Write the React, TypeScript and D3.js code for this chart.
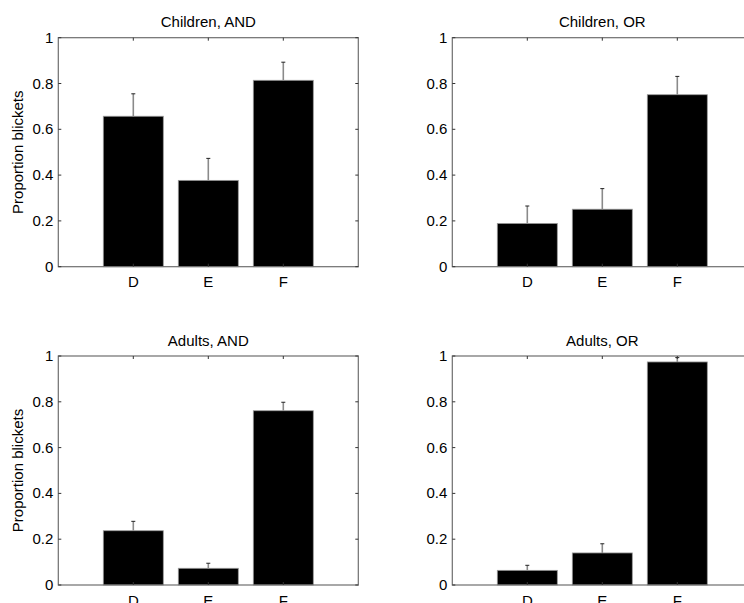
import React from "react";
import * as d3 from "d3";

const categories = ["D", "E", "F"];
const yTicks = [0, 0.2, 0.4, 0.6, 0.8, 1];
const panelTitles = ["Children, AND", "Children, OR", "Adults, AND", "Adults, OR"];
const childrenAnd = [0.657, 0.377, 0.814];
const childrenAndErr = [0.755, 0.473, 0.893];
const childrenOr = [0.189, 0.251, 0.751];
const childrenOrErr = [0.265, 0.341, 0.831];
const adultsAnd = [0.237, 0.073, 0.761];
const adultsAndErr = [0.278, 0.095, 0.798];
const adultsOr = [0.064, 0.14, 0.974];
const adultsOrErr = [0.086, 0.18, 0.993];

const W = 744;
const H = 603;
const FONT = "'Liberation Sans', Arial, Helvetica, sans-serif";

const panels = [
  { title: panelTitles[0], values: childrenAnd, errs: childrenAndErr, left: 58.3, top: 37.7, ylabel: true },
  { title: panelTitles[1], values: childrenOr, errs: childrenOrErr, left: 452.3, top: 37.7, ylabel: false },
  { title: panelTitles[2], values: adultsAnd, errs: adultsAndErr, left: 58.3, top: 356, ylabel: true },
  { title: panelTitles[3], values: adultsOr, errs: adultsOrErr, left: 452.3, top: 356, ylabel: false },
];

const PW = 300;
const PH = 229;

function Panel({ p }: { p: typeof panels[number] }) {
  const x = d3.scaleLinear().domain([0, 4]).range([p.left, p.left + PW]);
  const y = d3.scaleLinear().domain([0, 1]).range([p.top + PH, p.top]);
  const barW = x(0.8) - x(0);
  const capW = 4;
  const tickLen = 3;
  const axisColor = "#6e6e6e";
  return (
    <g>
      <text x={x(2)} y={p.top - 10.5} textAnchor="middle" fontSize={15} fontFamily={FONT} fill="#000">
        {p.title}
      </text>
      {p.values.map((v, i) => (
        <rect
          key={"b" + i}
          x={x(i + 1) - barW / 2}
          y={y(v)}
          width={barW}
          height={y(0) - y(v)}
          fill="#000"
          stroke="#9a9a9a"
          strokeWidth={0.8}
        />
      ))}
      {p.errs.map((e, i) => (
        <g key={"e" + i}>
          <line x1={x(i + 1)} x2={x(i + 1)} y1={y(p.values[i])} y2={y(e)} stroke="#8a8a8a" strokeWidth={1.6} />
          <line x1={x(i + 1) - capW / 2} x2={x(i + 1) + capW / 2} y1={y(e)} y2={y(e)} stroke="#222" strokeWidth={1} />
        </g>
      ))}
      <rect x={p.left} y={p.top} width={PW} height={PH} fill="none" stroke={axisColor} strokeWidth={1.2} />
      {yTicks.map((t) => (
        <g key={"y" + t}>
          <line x1={p.left} x2={p.left + tickLen} y1={y(t)} y2={y(t)} stroke="#333" strokeWidth={1} />
          <line x1={p.left + PW} x2={p.left + PW - tickLen} y1={y(t)} y2={y(t)} stroke="#333" strokeWidth={1} />
          <text x={p.left - 5} y={y(t) + 5} textAnchor="end" fontSize={15} fontFamily={FONT} fill="#000">
            {String(t)}
          </text>
        </g>
      ))}
      {categories.map((c, i) => (
        <g key={"x" + c}>
          <line x1={x(i + 1)} x2={x(i + 1)} y1={y(0)} y2={y(0) - tickLen} stroke="#333" strokeWidth={1} />
          <line x1={x(i + 1)} x2={x(i + 1)} y1={y(1)} y2={y(1) + tickLen} stroke="#333" strokeWidth={1} />
          <text x={x(i + 1)} y={y(0) + 20.5} textAnchor="middle" fontSize={15} fontFamily={FONT} fill="#000">
            {c}
          </text>
        </g>
      ))}
      {p.ylabel && (
        <text
          transform={`translate(22.5, ${p.top + PH / 2}) rotate(-90)`}
          textAnchor="middle"
          fontSize={15}
          fontFamily={FONT}
          fill="#000"
        >
          Proportion blickets
        </text>
      )}
    </g>
  );
}

export default function App() {
  return (
    <svg
      width={W}
      height={H}
      style={{ position: "absolute", left: 0, top: 0, background: "#fff" }}
    >
      <rect x={0} y={0} width={W} height={H} fill="#fff" />
      {panels.map((p, i) => (
        <Panel key={i} p={p} />
      ))}
    </svg>
  );
}
